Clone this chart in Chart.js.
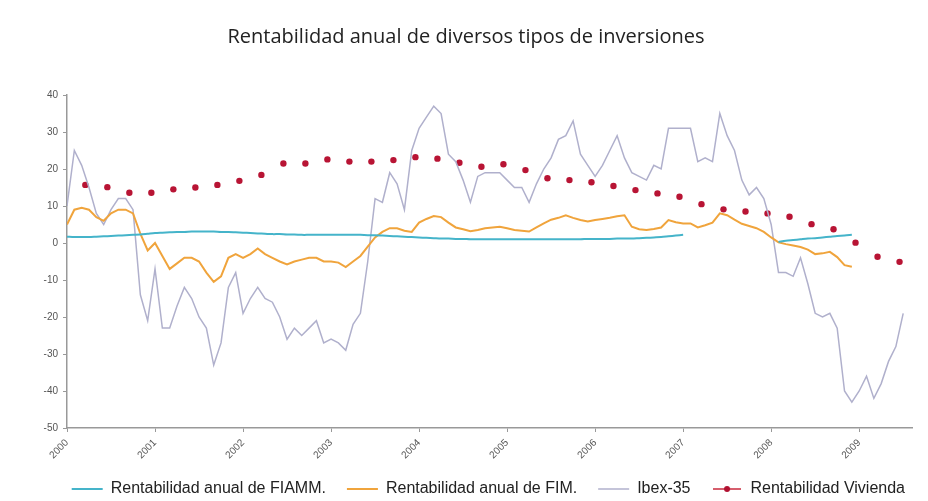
<!DOCTYPE html>
<html>
<head>
<meta charset="utf-8">
<script src="https://cdn.jsdelivr.net/npm/chart.js@4"></script>
<style>
  html, body { margin: 0; background: #fff; }
  canvas { display: block; }
</style>
</head>
<body>
<canvas id="chart" width="928" height="501"></canvas>
<script>
// monthly series start in January 2000
const startYear = 2000;
const seriesLabels = ['Rentabilidad anual de FIAMM.', 'Rentabilidad anual de FIM.', 'Ibex-35', 'Rentabilidad Vivienda'];

// FIAMM: Jan 2000 .. Dec 2008, gap in 2007
const fiamm = [
    1.7, 1.6, 1.6, 1.6, 1.7, 1.8, 1.9, 2.0, 2.1, 2.2, 2.3, 2.5,
    2.7, 2.8, 2.9, 3.0, 3.0, 3.1, 3.1, 3.1, 3.1, 3.0, 3.0, 2.9,
    2.8, 2.7, 2.6, 2.5, 2.4, 2.4, 2.3, 2.3, 2.2, 2.2, 2.2, 2.2,
    2.2, 2.2, 2.2, 2.2, 2.2, 2.1, 2.1, 2.0, 1.9, 1.8, 1.7, 1.6,
    1.5, 1.4, 1.3, 1.2, 1.2, 1.1, 1.1, 1.0, 1.0, 1.0, 1.0, 1.0,
    1.0, 1.0, 1.0, 1.0, 1.0, 1.0, 1.0, 1.0, 1.0, 1.0, 1.0, 1.1,
    1.1, 1.1, 1.1, 1.2, 1.2, 1.2, 1.3, 1.4, 1.5, 1.6, 1.8, 2.0,
    2.2, null, null, null, null, null, null, null, null, null, null, null,
    null, 0.3, 0.6, 0.8, 1.0, 1.2, 1.3, 1.5, 1.7, 1.9, 2.0, 2.2
];

// FIM: Jan 2000 .. Dec 2008
const fim = [
    5, 9, 9.5, 9, 7, 6, 8, 9, 9, 8, 2.5, -2,
    0, -3.5, -7, -5.5, -4, -4, -5, -8, -10.5, -9, -4, -3,
    -4, -3, -1.5, -3, -4, -5, -5.8, -5, -4.5, -4, -4, -5,
    -5, -5.3, -6.5, -5, -3.5, -1, 1.5, 3, 4, 4, 3.3, 3,
    5.5, 6.5, 7.3, 7, 5.5, 4.2, 3.7, 3.2, 3.5, 4, 4.2, 4.4,
    4, 3.5, 3.3, 3.1, 4.2, 5.3, 6.3, 6.8, 7.5, 6.8, 6.2, 5.8,
    6.2, 6.5, 6.8, 7.2, 7.5, 4.4, 3.7, 3.5, 3.8, 4.2, 6.2, 5.6,
    5.3, 5.3, 4.2, 4.8, 5.5, 8, 7.5, 6.3, 5.2, 4.6, 4, 3,
    1.5, 0.2, -0.3, -0.7, -1.1, -1.8, -3, -2.8, -2.4, -3.8, -6, -6.4
];

// Ibex-35: Jan 2000 .. Jul 2009
const ibex = [
    10, 25, 21, 15, 8, 5, 9, 12, 12, 9, -14, -21,
    -7, -23, -23, -17, -12, -15, -20, -23, -33, -27, -12, -8,
    -19, -15, -12, -15, -16, -20, -26, -23, -25, -23, -21, -27,
    -26, -27, -29, -22, -19, -5, 12, 11, 19, 16, 9, 25,
    31, 34, 37, 35, 24, 22, 17, 11, 18, 19, 19, 19,
    17, 15, 15, 11, 16, 20, 23, 28, 29, 33, 24, 21,
    18, 21, 25, 29, 23, 19, 18, 17, 21, 20, 31, 31,
    31, 31, 22, 23, 22, 35, 29, 25, 17, 13, 15, 12,
    5, -8, -8, -9, -4, -11, -19, -20, -19, -23, -40, -43,
    -40, -36, -42, -38, -32, -28, -19
];

// Vivienda: quarterly, from March 2000 to mid 2009
const viviendaFirstMonth = 2.5;
const vivienda = [
    15.7, 15.1, 13.6, 13.6, 14.5, 15.0, 15.7, 16.8, 18.4, 21.5,
    21.5, 22.6, 22.0, 22.0, 22.4, 23.2, 22.8, 21.7, 20.6, 21.3,
    19.7, 17.5, 17.0, 16.4, 15.4, 14.3, 13.4, 12.5, 10.5, 9.1,
    8.5, 8.0, 7.1, 5.1, 3.7, 0.1, -3.7, -5.1
];

function toPoints(values, firstMonth, step) {
    return values.map((v, i) => ({x: startYear + (firstMonth + i * step) / 12, y: v}));
}

// legend sample for Vivienda: short red line with a dot
const vivIcon = document.createElement('canvas');
vivIcon.width = 28; vivIcon.height = 8;
(function () {
    const c = vivIcon.getContext('2d');
    c.strokeStyle = '#c8283c'; c.lineWidth = 1.5;
    c.beginPath(); c.moveTo(0, 4); c.lineTo(28, 4); c.stroke();
    c.fillStyle = '#b01030';
    c.beginPath(); c.arc(14, 4, 3, 0, Math.PI * 2); c.fill();
})();

// nudge title and legend sideways like the original
const shiftBlocks = {
    id: 'shiftBlocks',
    afterLayout(chart) {
        chart.legend.left += 14;
        chart.legend.right += 14;
        chart.titleBlock.left += 10;
        chart.titleBlock.right += 10;
    }
};

const ctx = document.getElementById('chart');
new Chart(ctx, {
    type: 'line',
    plugins: [shiftBlocks],
    data: {
        datasets: [
            {
                label: seriesLabels[0],
                data: toPoints(fiamm, 0, 1),
                borderColor: '#45b4ca',
                backgroundColor: '#45b4ca',
                borderWidth: 2,
                pointRadius: 0,
                pointStyle: 'line',
                tension: 0.3,
                spanGaps: false
            },
            {
                label: seriesLabels[1],
                data: toPoints(fim, 0, 1),
                borderColor: '#f0a43c',
                backgroundColor: '#f0a43c',
                borderWidth: 2,
                pointRadius: 0,
                pointStyle: 'line',
                tension: 0
            },
            {
                label: seriesLabels[2],
                data: toPoints(ibex, 0, 1),
                borderColor: '#b0b0cc',
                backgroundColor: '#b0b0cc',
                borderWidth: 1.5,
                pointRadius: 0,
                pointStyle: 'line',
                tension: 0
            },
            {
                label: seriesLabels[3],
                data: toPoints(vivienda, viviendaFirstMonth, 3),
                showLine: false,
                borderColor: '#b81434',
                backgroundColor: '#b81434',
                pointRadius: 3.2,
                pointStyle: 'circle',
                pointBorderWidth: 0
            }
        ]
    },
    options: {
        responsive: false,
        animation: false,
        devicePixelRatio: 1,
        layout: {padding: {left: 0, right: 16, top: 0, bottom: -6}},
        scales: {
            x: {
                type: 'linear',
                min: 2000,
                max: 2009.6,
                afterFit: (s) => { s.height = 32; },
                border: {color: '#999', width: 1.5},
                grid: {drawOnChartArea: false, tickLength: 4, color: '#999'},
                ticks: {
                    stepSize: 1,
                    includeBounds: false,
                    autoSkip: false,
                    maxRotation: 45,
                    minRotation: 45,
                    padding: 5,
                    color: '#555',
                    font: {family: 'Liberation Sans', size: 10},
                    callback: (v) => Number.isInteger(v) ? String(v) : ''
                }
            },
            y: {
                min: -50,
                max: 40,
                afterFit: (s) => { s.width = 67; },
                border: {color: '#999', width: 1.5},
                grid: {drawOnChartArea: false, tickLength: 4, color: '#999'},
                ticks: {
                    stepSize: 10,
                    padding: 5,
                    color: '#555',
                    font: {family: 'Liberation Sans', size: 10}
                }
            }
        },
        plugins: {
            title: {
                display: true,
                text: 'Rentabilidad anual de diversos tipos de inversiones',
                color: '#222',
                font: {family: 'Open Sans', size: 20, weight: 'normal'},
                padding: {top: 25, bottom: 46}
            },
            legend: {
                position: 'bottom',
                align: 'end',
                labels: {
                    usePointStyle: true,
                    pointStyleWidth: 31,
                    padding: 21,
                    color: '#222',
                    font: {family: 'Liberation Sans', size: 16},
                    generateLabels: (chart) => {
                        const items = Chart.defaults.plugins.legend.labels.generateLabels(chart);
                        items[3].pointStyle = vivIcon;
                        return items;
                    }
                }
            },
            tooltip: {enabled: false}
        }
    }
});
</script>
</body>
</html>
